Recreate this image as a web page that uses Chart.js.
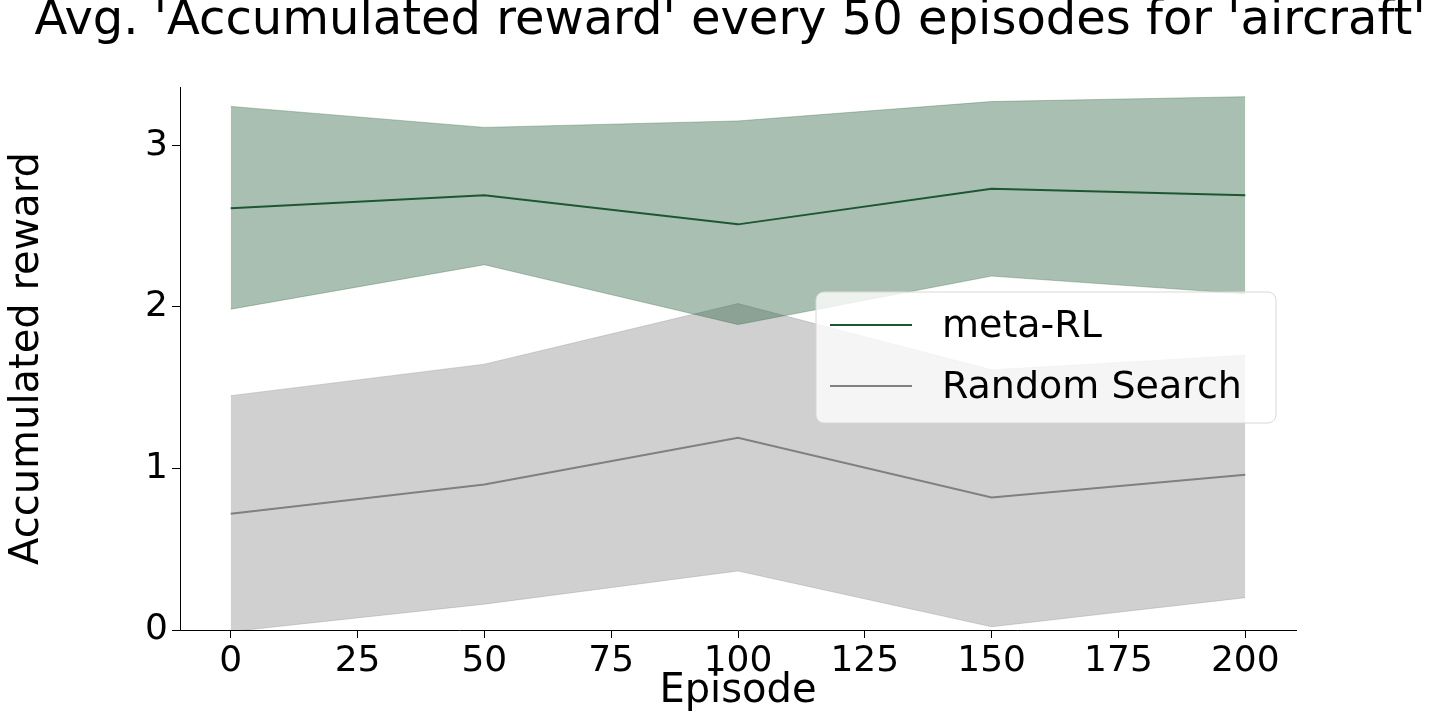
<!DOCTYPE html>
<html>
<head>
<meta charset="utf-8">
<script src="https://cdn.jsdelivr.net/npm/chart.js@4"></script>
<style>
  html, body { margin: 0; padding: 0; background: #fff; }
  #wrap { width: 1440px; height: 720px; }
</style>
</head>
<body>
<div id="wrap"><canvas id="chart" width="1440" height="720"></canvas></div>
<script>
// Episodes and values
const episodes = [0, 50, 100, 150, 200];
const metaMean = [2.61, 2.69, 2.51, 2.73, 2.69];
const metaUpper = [3.24, 3.11, 3.15, 3.27, 3.30];
const metaLower = [1.985, 2.26, 1.89, 2.19, 2.08];
const randMean = [0.72, 0.90, 1.19, 0.82, 0.96];
const randUpper = [1.45, 1.645, 2.02, 1.61, 1.70];
const randLower = [-0.01, 0.16, 0.365, 0.02, 0.20];
const xTicks = [0, 25, 50, 75, 100, 125, 150, 175, 200];
const yTicks = [0, 1, 2, 3];

const FONT = 'DejaVu Sans';
const META_COLOR = '#1e5631';
const META_FILL = 'rgba(30, 86, 49, 0.38)';
const RAND_COLOR = '#808080';
const RAND_FILL = 'rgba(128, 128, 128, 0.37)';

const pts = arr => episodes.map((e, i) => ({ x: e, y: arr[i] }));

const band = (data, fill, target) => ({
    data: pts(data), borderWidth: 0.8, borderColor: fill,
    backgroundColor: fill, fill: target, pointRadius: 0, tension: 0
});
const line = (data, color) => ({
    data: pts(data), borderWidth: 2, borderColor: color,
    fill: false, pointRadius: 0, tension: 0
});

// Title and in-plot legend drawn on the canvas
const decorations = {
    id: 'decorations',
    afterDraw(chart) {
        const ctx = chart.ctx;
        ctx.save();
        ctx.fillStyle = '#000';
        ctx.font = `48px "${FONT}"`;
        ctx.textAlign = 'center';
        ctx.textBaseline = 'middle';
        ctx.fillText("Avg. 'Accumulated reward' every 50 episodes for 'aircraft'", 730, 22);

        // legend box
        const bx = 816, by = 292, bw = 460, bh = 131, r = 8;
        ctx.beginPath();
        ctx.roundRect(bx, by, bw, bh, r);
        ctx.fillStyle = 'rgba(255,255,255,0.8)';
        ctx.fill();
        ctx.strokeStyle = '#d8d8d8';
        ctx.lineWidth = 1;
        ctx.stroke();

        const items = [['meta-RL', META_COLOR, 325], ['Random Search', RAND_COLOR, 386]];
        ctx.font = `38px "${FONT}"`;
        ctx.textAlign = 'left';
        items.forEach(([label, color, y]) => {
            ctx.beginPath();
            ctx.moveTo(830, y);
            ctx.lineTo(912, y);
            ctx.strokeStyle = color;
            ctx.lineWidth = 2;
            ctx.stroke();
            ctx.fillStyle = '#000';
            ctx.fillText(label, 942, y + 2);
        });
        ctx.restore();
    }
};

new Chart(document.getElementById('chart'), {
    type: 'line',
    data: {
        datasets: [
            band(metaUpper, META_FILL, 1),
            band(metaLower, META_FILL, false),
            line(metaMean, META_COLOR),
            band(randUpper, RAND_FILL, 4),
            band(randLower, RAND_FILL, false),
            line(randMean, RAND_COLOR)
        ]
    },
    options: {
        responsive: false,
        animation: false,
        devicePixelRatio: 1,
        layout: { padding: { top: 87, right: 144, left: 0, bottom: 0 } },
        plugins: { legend: { display: false }, tooltip: { enabled: false }, title: { display: false } },
        scales: {
            x: {
                type: 'linear', min: -10, max: 210,
                afterBuildTicks: s => { s.ticks = xTicks.map(v => ({ value: v })); },
                afterFit: s => { s.height = 90; },
                grid: { drawOnChartArea: false, tickLength: 8, color: '#000' },
                border: { color: '#000', width: 1 },
                ticks: { color: '#000', font: { family: FONT, size: 36 }, padding: 2, maxRotation: 0 },
                title: { display: true, text: 'Episode', color: '#000', font: { family: FONT, size: 40 }, padding: { top: 0 } }
            },
            y: {
                type: 'linear', min: 0, max: 3.36,
                afterBuildTicks: s => { s.ticks = yTicks.map(v => ({ value: v })); },
                afterFit: s => { s.width = 180; },
                grid: { drawOnChartArea: false, tickLength: 8, color: '#000' },
                border: { color: '#000', width: 1 },
                ticks: { color: '#000', font: { family: FONT, size: 36 }, padding: 4 },
                title: { display: true, text: 'Accumulated reward', color: '#000', font: { family: FONT, size: 40 }, padding: { bottom: 10 } }
            }
        }
    },
    plugins: [decorations]
});
</script>
</body>
</html>
